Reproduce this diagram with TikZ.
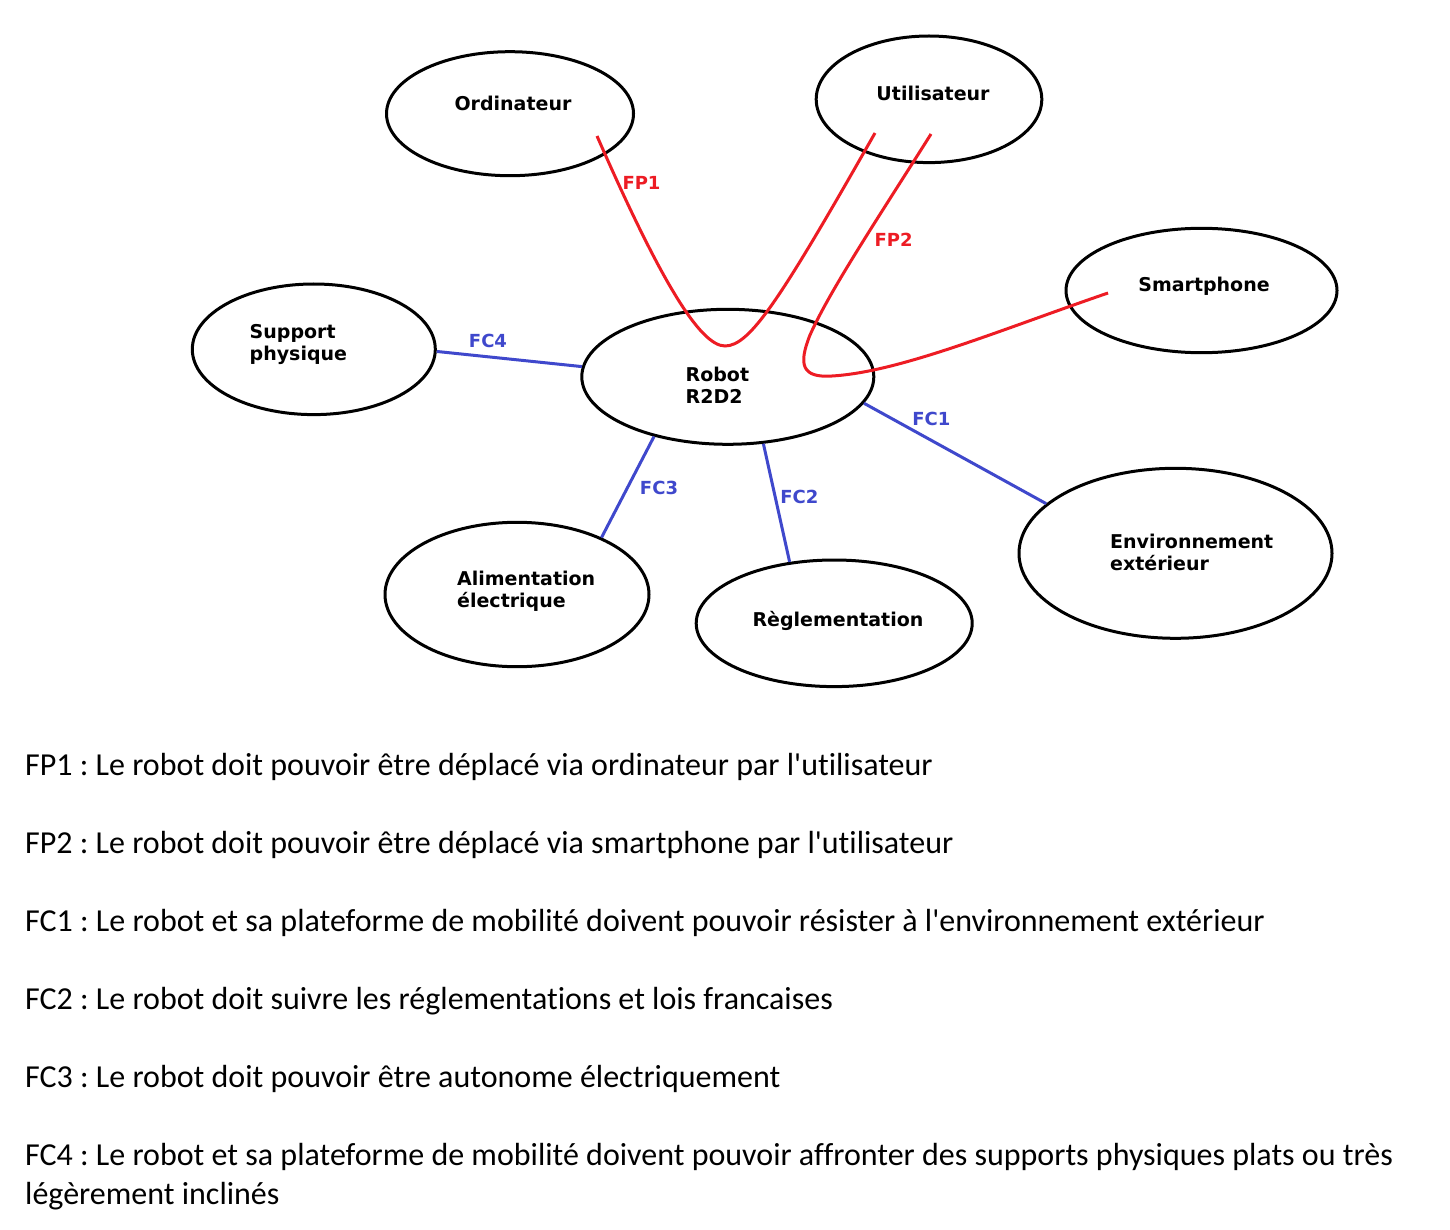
\documentclass[tikz,border=0pt]{standalone}
\usepackage{fontspec}
\setmainfont{Carlito}[Ligatures={TeXOff,NoCommon}]
\newfontfamily\labfont{DejaVu Sans}
\usetikzlibrary{shapes.geometric}
\definecolor{fpred}{RGB}{237,28,36}
\definecolor{fcblue}{RGB}{63,72,204}
\frenchspacing
\tikzset{
  ell/.style={ellipse, draw=black, line width=3pt, inner sep=0pt},
  lbl/.style={font=\labfont\bfseries\fontsize{19}{22}\selectfont, inner sep=0pt, align=left},
  fpline/.style={draw=fpred, line width=3pt},
  fcline/.style={draw=fcblue, line width=3pt},
  fptxt/.style={text=fpred, font=\labfont\bfseries\fontsize{18}{21}\selectfont, inner sep=0pt, anchor=base},
  fctxt/.style={text=fcblue, font=\labfont\bfseries\fontsize{18}{21}\selectfont, inner sep=0pt, anchor=base},
  desc/.style={font=\frenchspacing\fontsize{32}{39}\selectfont, anchor=base west, inner sep=0pt, align=left}
}
\begin{document}
\begin{tikzpicture}[x=1pt,y=-1pt]
\fill[white] (0,0) rectangle (1450,1230);
\useasboundingbox (0,0) rectangle (1450,1230);

% ellipses
\node[ell, minimum width=247pt, minimum height=124pt] (ordi) at (510,113.7) {};
\node[ell, minimum width=225.6pt, minimum height=126.6pt] (util) at (929,99.3) {};
\node[ell, minimum width=271pt, minimum height=124.4pt] (smart) at (1201.5,290.5) {};
\node[ell, minimum width=243pt, minimum height=130.6pt] (supp) at (313.8,349.3) {};
\node[ell, minimum width=292pt, minimum height=135pt] (robot) at (727.8,376.8) {};
\node[ell, minimum width=264pt, minimum height=144.4pt] (alim) at (517,594.5) {};
\node[ell, minimum width=276pt, minimum height=126.6pt] (regl) at (834.2,623.3) {};
\node[ell, minimum width=313pt, minimum height=170pt] (env) at (1175.5,553.3) {};

% ellipse texts (multi-line: base = last line baseline)
\node[lbl, anchor=base] (tordi) at (513,111) {Ordinateur};
\node[lbl, anchor=base] (tutil) at (933,101) {Utilisateur};
\node[lbl, anchor=base] (tsmart) at (1204,292) {Smartphone};
\node[lbl, anchor=base] (tregl) at (838,626) {Règlementation};
\node[lbl, anchor=base west] (tsupp) at (249.5,360) {Support\\physique};
\node[lbl, anchor=base west] (talim) at (457,607) {Alimentation\\électrique};
\node[lbl, anchor=base west] (trobot) at (685.5,403) {Robot\\R2D2};
\node[lbl, anchor=base west] (tenv) at (1110,570) {Environnement\\extérieur};

% blue connectors
\draw[fcline] (supp.-1) -- (robot.176.4);
\draw[fcline] (robot.-11.6) -- (env.159.6);
\draw[fcline] (robot.219.8) -- (alim.34);
\draw[fcline] (robot.-62.7) -- (regl.126);

% red connectors
\coordinate (fp1s) at (597,136);
\coordinate (fp1e) at (875,133);
\coordinate (fp1b) at (725,346);
\coordinate (fp2s) at (931,134);
\coordinate (fp2e) at (1108,293);
\draw[fpline] (fp1s) .. controls (660,280) and (700,346) .. (fp1b)
  .. controls (750,346) and (780,300) .. (fp1e);
\draw[fpline] (fp2s) .. controls (880,215) and (830,290) .. (810,335)
  .. controls (798,365) and (802,378) .. (832,376)
  .. controls (900,372) and (1000,330) .. (fp2e);

% connector labels
\node[fptxt] (lfp1) at (641.5,190) {FP1};
\node[fptxt] (lfp2) at (893.6,246.7) {FP2};
\node[fctxt] (lfc4) at (488,347.7) {FC4};
\node[fctxt] (lfc3) at (659,494.3) {FC3};
\node[fctxt] (lfc1) at (931.3,425.7) {FC1};
\node[fctxt] (lfc2) at (799.4,503.3) {FC2};

% description
\node[desc] (d1) at (25,775) {FP1 : Le robot doit pouvoir être déplacé via ordinateur par l'utilisateur};
\node[desc] (d2) at (25,853) {FP2 : Le robot doit pouvoir être déplacé via smartphone par l'utilisateur};
\node[desc] (d3) at (25,931) {FC1 : Le robot et sa plateforme de mobilité doivent pouvoir résister à l'environnement extérieur};
\node[desc] (d4) at (25,1009) {FC2 : Le robot doit suivre les réglementations et lois francaises};
\node[desc] (d5) at (25,1087) {FC3 : Le robot doit pouvoir être autonome électriquement};
\node[desc] (d6) at (25,1204) {FC4 : Le robot et sa plateforme de mobilité doivent pouvoir affronter des supports physiques plats ou très\\légèrement inclinés};
\end{tikzpicture}
\end{document}
